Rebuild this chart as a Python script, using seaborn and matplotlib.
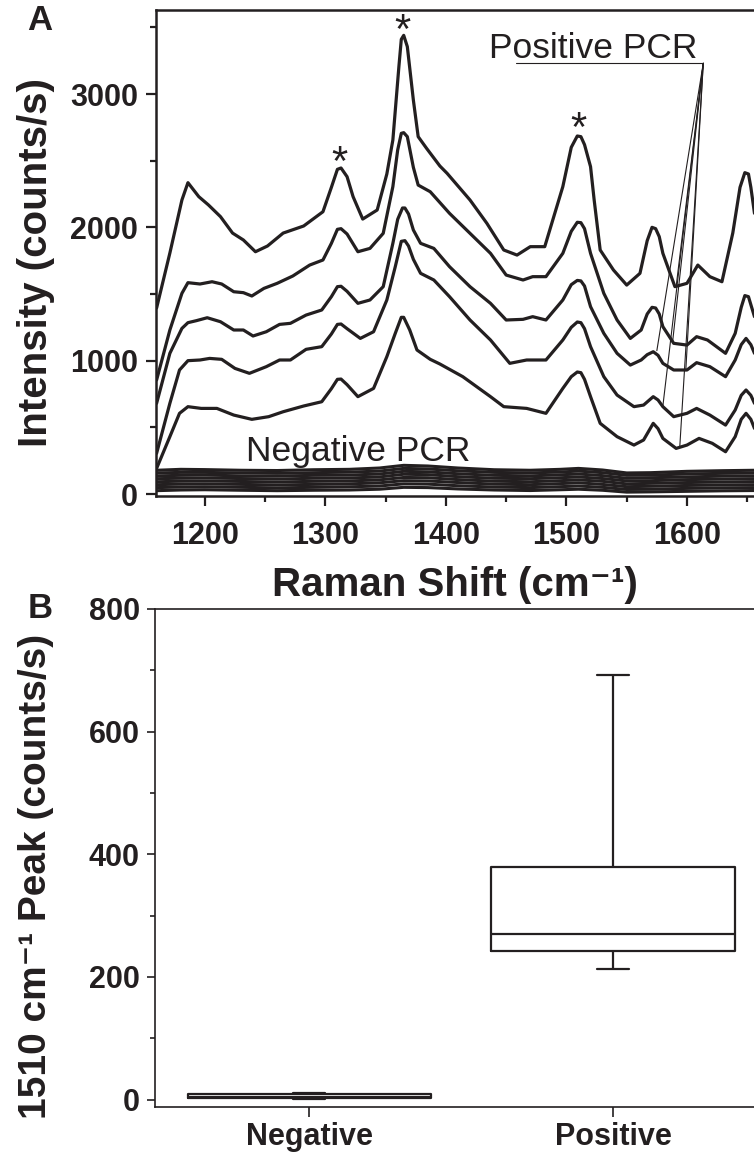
import matplotlib
matplotlib.use("Agg")
import matplotlib.pyplot as plt
import seaborn as sns
import pandas as pd
from matplotlib.ticker import MultipleLocator, FixedLocator

# ---------------- data: panel A (Raman spectra) ----------------
pos1 = [(1160, 1395), (1171, 1807), (1181, 2205), (1186, 2335), (1195, 2230), (1203, 2168),
        (1213, 2080), (1223, 1957), (1232, 1905), (1242, 1817), (1252, 1860), (1265, 1957),
        (1282, 2010), (1298, 2117), (1305, 2300), (1310, 2435), (1313, 2445), (1318, 2380),
        (1323, 2230), (1331, 2062), (1343, 2130), (1351, 2400), (1356, 2655), (1361, 3205),
        (1363, 3410), (1365, 3440), (1368, 3355), (1373, 2955), (1377, 2680), (1384, 2592),
        (1395, 2460), (1401, 2405), (1420, 2205), (1434, 2030), (1448, 1830), (1459, 1792),
        (1470, 1855), (1482, 1855), (1497, 2305), (1504, 2600), (1509, 2685), (1512, 2680),
        (1515, 2620), (1520, 2455), (1523, 2205), (1528, 1830), (1539, 1680), (1550, 1567),
        (1561, 1655), (1567, 1900), (1571, 2000), (1574, 1990), (1577, 1930), (1580, 1805),
        (1590, 1555), (1600, 1580), (1609, 1717), (1619, 1630), (1629, 1592), (1638, 1957),
        (1644, 2300), (1648, 2410), (1651, 2400), (1653, 2300), (1656, 2105)]
pos2 = [(1160, 855), (1171, 1230), (1181, 1505), (1186, 1585), (1196, 1575), (1206, 1592),
        (1214, 1575), (1224, 1517), (1232, 1510), (1239, 1485), (1249, 1542), (1260, 1580),
        (1273, 1635), (1287, 1717), (1298, 1755), (1305, 1880), (1310, 1985), (1313, 1990),
        (1318, 1950), (1327, 1817), (1337, 1842), (1348, 1955), (1356, 2305), (1360, 2580),
        (1363, 2705), (1365, 2710), (1368, 2680), (1373, 2450), (1377, 2317), (1387, 2267),
        (1403, 2105), (1420, 1955), (1437, 1805), (1450, 1642), (1464, 1605), (1472, 1630),
        (1483, 1630), (1497, 1805), (1504, 1970), (1509, 2038), (1512, 2035), (1515, 1990),
        (1520, 1805), (1531, 1505), (1542, 1305), (1553, 1167), (1562, 1230), (1567, 1350),
        (1571, 1400), (1574, 1395), (1577, 1350), (1580, 1255), (1589, 1130), (1600, 1117),
        (1608, 1180), (1617, 1155), (1632, 1055), (1640, 1205), (1645, 1400), (1648, 1488),
        (1651, 1480), (1653, 1420), (1656, 1330)]
pos3 = [(1160, 680), (1171, 1055), (1181, 1242), (1186, 1285), (1193, 1300), (1202, 1322),
        (1213, 1292), (1224, 1230), (1232, 1230), (1240, 1185), (1251, 1217), (1262, 1272),
        (1271, 1280), (1284, 1342), (1297, 1380), (1305, 1480), (1310, 1555), (1313, 1558),
        (1318, 1520), (1327, 1430), (1337, 1455), (1348, 1555), (1356, 1880), (1360, 2060),
        (1364, 2145), (1366, 2145), (1369, 2100), (1373, 1980), (1379, 1880), (1390, 1842),
        (1403, 1705), (1420, 1555), (1437, 1430), (1450, 1305), (1464, 1310), (1472, 1330),
        (1483, 1305), (1497, 1455), (1504, 1570), (1509, 1602), (1512, 1598), (1515, 1560),
        (1520, 1405), (1531, 1205), (1542, 1055), (1553, 967), (1562, 1005), (1567, 1045),
        (1572, 1067), (1576, 1040), (1580, 980), (1589, 930), (1600, 930), (1608, 985),
        (1619, 955), (1632, 880), (1640, 1005), (1645, 1120), (1649, 1167), (1653, 1120),
        (1656, 1055)]
pos4 = [(1160, 305), (1171, 680), (1179, 930), (1186, 1000), (1196, 1005), (1204, 1017),
        (1214, 1010), (1225, 942), (1237, 905), (1251, 955), (1262, 1005), (1271, 1005),
        (1284, 1085), (1297, 1105), (1305, 1200), (1310, 1272), (1313, 1275), (1318, 1240),
        (1329, 1167), (1340, 1217), (1351, 1455), (1358, 1705), (1363, 1895), (1366, 1900),
        (1369, 1860), (1373, 1760), (1379, 1655), (1390, 1605), (1403, 1480), (1420, 1305),
        (1437, 1155), (1453, 980), (1467, 1005), (1483, 1005), (1497, 1155), (1504, 1250),
        (1509, 1290), (1512, 1285), (1515, 1240), (1520, 1105), (1531, 880), (1542, 742),
        (1556, 655), (1564, 667), (1572, 730), (1576, 705), (1580, 655), (1589, 580),
        (1600, 605), (1608, 642), (1619, 592), (1632, 517), (1640, 630), (1645, 740),
        (1649, 780), (1653, 740), (1656, 680)]
pos5 = [(1160, 192), (1171, 430), (1179, 605), (1186, 655), (1197, 642), (1210, 642),
        (1224, 592), (1239, 560), (1253, 580), (1265, 617), (1282, 660), (1297, 692),
        (1305, 790), (1310, 860), (1313, 862), (1318, 820), (1327, 730), (1340, 792),
        (1351, 1030), (1358, 1205), (1363, 1325), (1365, 1325), (1370, 1230), (1376, 1080),
        (1387, 1010), (1395, 975), (1414, 880), (1437, 730), (1448, 655), (1467, 642),
        (1483, 605), (1497, 792), (1504, 880), (1509, 915), (1512, 910), (1515, 860),
        (1520, 730), (1528, 530), (1542, 430), (1556, 367), (1564, 405), (1572, 530),
        (1576, 490), (1580, 417), (1591, 342), (1600, 367), (1610, 417), (1621, 380),
        (1632, 317), (1640, 430), (1645, 560), (1649, 605), (1653, 560), (1656, 492)]

neg_x = [1160, 1180, 1200, 1230, 1260, 1290, 1320, 1345, 1365, 1385, 1410,
         1440, 1470, 1495, 1510, 1530, 1550, 1570, 1600, 1630, 1656]
neg1 = [178, 185, 183, 178, 176, 182, 185, 195, 215, 210, 195, 182, 178, 185, 192, 180, 158, 160, 170, 175, 178]
neg2 = [158, 162, 162, 158, 155, 160, 164, 172, 192, 188, 174, 162, 158, 165, 172, 160, 140, 142, 150, 155, 158]
neg3 = [136, 140, 142, 136, 134, 140, 142, 150, 170, 166, 152, 140, 136, 144, 150, 138, 118, 122, 128, 134, 136]
neg4 = [115, 118, 120, 116, 112, 118, 120, 128, 148, 145, 130, 118, 115, 122, 128, 116, 98, 100, 108, 112, 115]
neg5 = [92, 96, 98, 94, 90, 95, 98, 106, 124, 122, 108, 96, 92, 100, 106, 95, 76, 80, 86, 90, 93]
neg6 = [70, 74, 76, 72, 68, 72, 76, 84, 100, 98, 86, 74, 70, 78, 84, 72, 55, 58, 64, 68, 70]
neg7 = [48, 52, 54, 50, 46, 50, 54, 60, 76, 74, 62, 52, 48, 55, 60, 50, 34, 36, 42, 46, 48]
neg8 = [25, 30, 32, 28, 25, 28, 30, 36, 50, 48, 38, 30, 26, 32, 36, 28, 14, 16, 20, 24, 26]

star_x = [1312, 1364, 1510]
star_y = [2392, 3382, 2647]

fan_apex = (1613.5, 3230)
fan_end_x = [1591, 1588, 1575, 1599, 1580, 1594]
fan_end_y = [1555, 1135, 1075, 925, 660, 350]

# ---------------- data: panel B (1510 cm-1 peak box plot) ----------------
groups = ["Negative", "Positive"]
neg_peak = [1, 3, 5, 9, 11]
pos_peak = [213, 243, 270, 380, 693]

# ---------------- style ----------------
sns.set_theme(style="ticks")
plt.rcParams["font.family"] = ["Liberation Sans", "DejaVu Sans"]
plt.rcParams["axes.edgecolor"] = "#231f20"
plt.rcParams["xtick.color"] = "#231f20"
plt.rcParams["ytick.color"] = "#231f20"
INK = "#231f20"

W, H = 754, 1155
fig = plt.figure(figsize=(W / 100, H / 100), dpi=100)
ax1 = fig.add_axes([156 / W, 1 - 496 / H, (W - 156) / W, (496 - 10) / H])
ax2 = fig.add_axes([155 / W, 1 - 1107 / H, (W - 155) / W, (1107 - 609) / H])

# ---------------- panel A ----------------
for curve in [pos1, pos2, pos3, pos4, pos5]:
    df = pd.DataFrame(curve, columns=["x", "y"])
    sns.lineplot(data=df, x="x", y="y", ax=ax1, color=INK, lw=2.3,
                 estimator=None, sort=False, solid_joinstyle="round")
for ny in [neg1, neg2, neg3, neg4, neg5, neg6, neg7, neg8]:
    sns.lineplot(x=neg_x, y=ny, ax=ax1, color=INK, lw=2.2, estimator=None, sort=False,
                 solid_joinstyle="round")

for ex, ey in zip(fan_end_x, fan_end_y):
    ax1.plot([fan_apex[0], ex], [fan_apex[1], ey], color=INK, lw=0.8)
ax1.plot([1458, fan_apex[0]], [fan_apex[1], fan_apex[1]], color=INK, lw=0.8)

for sx, sy in zip(star_x, star_y):
    ax1.text(sx, sy, "*", ha="center", va="baseline", fontsize=30, color=INK)

ax1.text(1522.5, 3270, "Positive PCR", ha="center", va="baseline", fontsize=25.5, color=INK)
ax1.text(1327, 248, "Negative PCR", ha="center", va="baseline", fontsize=25.5, color=INK)

ax1.set_xlim(1159.5, 1655.6)
ax1.set_ylim(-15, 3630)
ax1.xaxis.set_major_locator(MultipleLocator(100))
ax1.xaxis.set_minor_locator(MultipleLocator(50))
ax1.yaxis.set_major_locator(MultipleLocator(1000))
ax1.yaxis.set_minor_locator(MultipleLocator(500))
ax1.spines["right"].set_visible(False)
for s in ["left", "bottom", "top"]:
    ax1.spines[s].set_linewidth(1.8)
ax1.tick_params(which="major", direction="out", length=7, width=1.6, labelsize=22, pad=6)
ax1.tick_params(which="minor", direction="out", length=4.5, width=1.6)
ax1.tick_params(axis="x", which="major", pad=11)
for lab in ax1.get_xticklabels() + ax1.get_yticklabels():
    lab.set_fontweight("bold")
ax1.set_xlabel("Raman Shift (cm\u207b\u00b9)", fontsize=29, fontweight="bold", color=INK, labelpad=11)
ax1.set_ylabel("Intensity (counts/s)", fontsize=29, fontweight="bold", color=INK)
ax1.yaxis.set_label_coords(-101 / (W - 156), 0.481)

# ---------------- panel B ----------------
box_df = pd.DataFrame({
    "group": [groups[0]] * len(neg_peak) + [groups[1]] * len(pos_peak),
    "peak": neg_peak + pos_peak,
})
sns.boxplot(data=box_df, x="group", y="peak", order=groups, ax=ax2, fill=False,
            color=INK, linewidth=1.6, width=0.8, whis=(0, 100), showfliers=False)
# narrow the whisker caps
for ln in ax2.lines:
    xd = list(ln.get_xdata())
    yd = list(ln.get_ydata())
    if len(xd) == 2 and yd[0] == yd[1] and abs(xd[1] - xd[0]) < 0.5 and abs(xd[1] - xd[0]) > 0.01:
        c = (xd[0] + xd[1]) / 2
        ln.set_xdata([c - 0.053, c + 0.053])

ax2.set_xlim(-0.507, 1.464)
ax2.set_ylim(-12, 800)
ax2.yaxis.set_major_locator(MultipleLocator(200))
ax2.yaxis.set_minor_locator(MultipleLocator(100))
ax2.xaxis.set_major_locator(FixedLocator([0, 1]))
ax2.set_xticklabels(groups)
ax2.spines["right"].set_visible(False)
for s in ["left", "bottom", "top"]:
    ax2.spines[s].set_linewidth(1.2)
ax2.tick_params(which="major", direction="out", length=6, width=1.2, labelsize=22, pad=5)
ax2.tick_params(which="minor", direction="out", length=3.5, width=1.2)
ax2.tick_params(axis="x", which="major", length=7, pad=4)
for lab in ax2.get_xticklabels() + ax2.get_yticklabels():
    lab.set_fontweight("bold")
ax2.set_xlabel("")
ax2.set_ylabel("1510 cm\u207b\u00b9 Peak (counts/s)", fontsize=28, fontweight="bold", color=INK)
ax2.yaxis.set_label_coords(-101 / (W - 155), 0.462)

fig.text(40 / W, 1 - 20 / H, "A", fontsize=25, fontweight="bold", color=INK, ha="center", va="center")
fig.text(40 / W, 1 - 609 / H, "B", fontsize=25, fontweight="bold", color=INK, ha="center", va="center")

fig.savefig("out.png", dpi=100)
